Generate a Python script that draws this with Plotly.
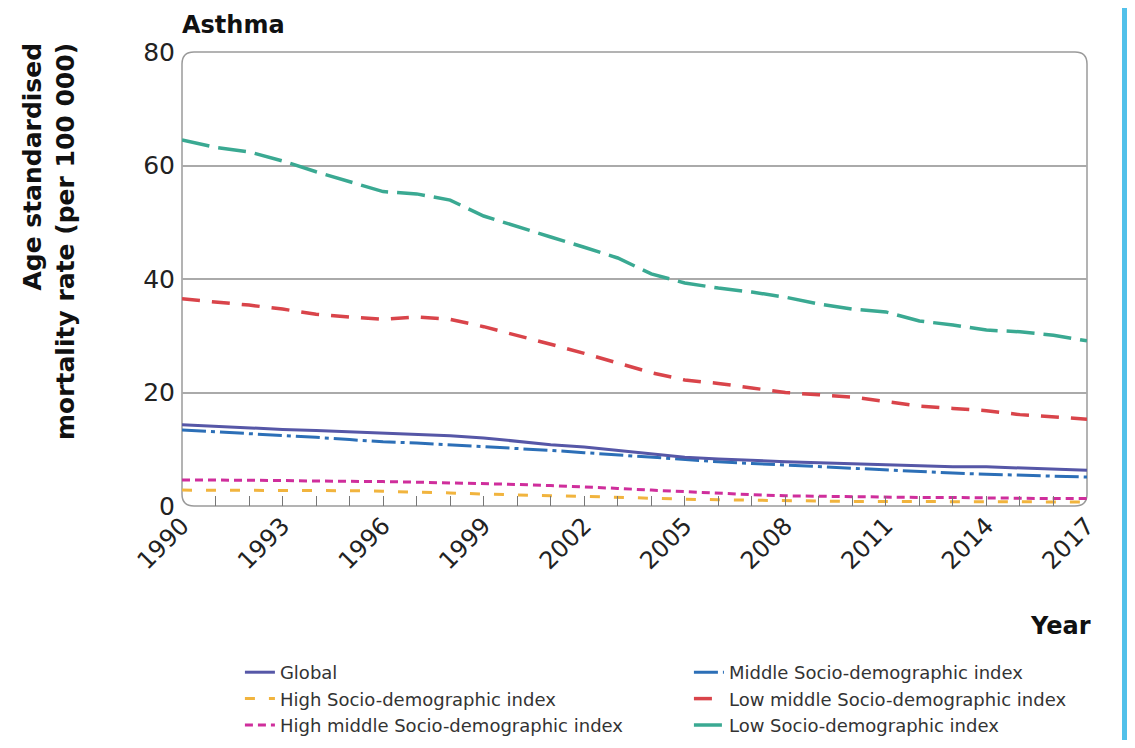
import plotly.graph_objects as go

years = list(range(1990, 2018))

global_rate = [14.3, 14.0, 13.8, 13.5, 13.3, 13.1, 12.9, 12.7, 12.4, 12.0, 11.4, 10.8, 10.4, 9.8,
               9.1, 8.6, 8.3, 8.0, 7.8, 7.6, 7.4, 7.2, 7.0, 6.9, 6.9, 6.7, 6.5, 6.3]
middle_sdi = [13.4, 13.1, 12.8, 12.5, 12.1, 11.7, 11.3, 11.1, 10.8, 10.5, 10.1, 9.8, 9.4, 9.0,
              8.5, 8.1, 7.8, 7.5, 7.2, 6.9, 6.6, 6.3, 6.0, 5.8, 5.6, 5.4, 5.3, 5.1]
high_sdi = [2.8, 2.8, 2.8, 2.7, 2.7, 2.7, 2.6, 2.5, 2.3, 2.1, 1.9, 1.8, 1.7, 1.5,
            1.4, 1.2, 1.1, 1.0, 0.9, 0.9, 0.8, 0.8, 0.8, 0.7, 0.7, 0.7, 0.7, 0.7]
low_middle_sdi = [36.5, 36.0, 35.4, 34.7, 33.8, 33.3, 32.9, 33.3, 32.9, 31.6, 30.1, 28.5, 26.9, 25.2,
                  23.5, 22.2, 21.6, 20.8, 20.0, 19.6, 19.2, 18.4, 17.6, 17.2, 16.8, 16.1, 15.7, 15.3]
high_middle_sdi = [4.6, 4.6, 4.5, 4.5, 4.4, 4.4, 4.3, 4.2, 4.1, 4.0, 3.8, 3.6, 3.4, 3.1,
                   2.8, 2.5, 2.2, 2.0, 1.8, 1.7, 1.6, 1.6, 1.5, 1.5, 1.4, 1.4, 1.3, 1.3]
low_sdi = [64.5, 63.2, 62.4, 60.8, 58.9, 57.1, 55.4, 55.0, 53.9, 51.1, 49.2, 47.4, 45.6, 43.7,
           40.9, 39.3, 38.4, 37.7, 36.8, 35.6, 34.7, 34.2, 32.6, 31.9, 31.0, 30.7, 30.1, 29.1]

x_tick_vals = list(range(1990, 2018, 3))
y_tick_vals = [0, 20, 40, 60, 80]

FONT = "DejaVu Sans"

fig = go.Figure()

# (name, data, color, dash, width, legendrank)
series = [
    ("High Socio-demographic index", high_sdi, "#f1b43e", "10px,14px", 3, 3),
    ("High middle Socio-demographic index", high_middle_sdi, "#cf2e9c", "8px,5px", 3, 5),
    ("Low Socio-demographic index", low_sdi, "#3aa992", "28px,9px", 3.5, 6),
    ("Low middle Socio-demographic index", low_middle_sdi, "#d9444a", "18px,12px", 3.5, 4),
    ("Middle Socio-demographic index", middle_sdi, "#2c6fb7", "24px,5px,4px,5px", 3, 2),
    ("Global", global_rate, "#5657a7", "solid", 3, 1),
]
for name, vals, color, dash, w, rank in series:
    fig.add_trace(go.Scatter(
        x=years, y=vals, mode="lines", name=name, legendrank=rank,
        line=dict(color=color, dash=dash, width=w),
    ))

rx = 12 / 905
ry = 12 / 454
path = (f"M {rx},0 L {1-rx},0 Q 1,0 1,{ry} L 1,{1-ry} Q 1,1 {1-rx},1 "
        f"L {rx},1 Q 0,1 0,{1-ry} L 0,{ry} Q 0,0 {rx},0 Z")

# page has an 8px body margin; figure sized to fit the window
fig.update_layout(
    width=1127, height=732,
    margin=dict(l=174, r=48, t=44, b=234, autoexpand=False),
    paper_bgcolor="white", plot_bgcolor="white",
    font=dict(family=FONT, color="#222222"),
    title=dict(text="<b>Asthma</b>", x=0, xref="paper", xanchor="left",
               y=1 - 17 / 732, yref="container", yanchor="middle",
               font=dict(size=24, family=FONT, color="#111111")),
    xaxis=dict(range=[1990, 2017], tickvals=x_tick_vals, tickangle=-45,
               tickfont=dict(size=24, family=FONT, color="#222222"),
               ticks="inside", ticklen=10, tickcolor="#777777", tickwidth=1,
               minor=dict(dtick=1, tick0=1990, ticks="inside", ticklen=10,
                          tickcolor="#777777", tickwidth=1, showgrid=False),
               showgrid=False, zeroline=False, showline=False, fixedrange=True,
               automargin=False),
    yaxis=dict(range=[0, 80], tickvals=y_tick_vals,
               tickfont=dict(size=25, family=FONT, color="#222222"),
               ticks="", ticklabelstandoff=6,
               showgrid=False, zeroline=False, showline=False,
               minor=dict(tickmode="array", tickvals=[20, 40, 60], showgrid=True,
                          gridcolor="#aaaaaa", gridwidth=1.5, ticks=""),
               fixedrange=True, automargin=False),
    legend=dict(orientation="h", x=0.064, xanchor="left", y=-0.326, yanchor="top",
                entrywidth=404, entrywidthmode="pixels",
                font=dict(size=18, family=FONT, color="#333333"),
                traceorder="normal", bgcolor="rgba(0,0,0,0)", tracegroupgap=0),
    showlegend=True,
    shapes=[
        dict(type="path", path=path, xref="paper", yref="paper",
             line=dict(color="#9a9a9a", width=1.5), layer="below"),
        dict(type="rect", xref="paper", yref="paper",
             x0=(1122 - 182) / 905, x1=(1128 - 182) / 905,
             y0=(506 - 740) / 454, y1=(506 + 2) / 454,
             fillcolor="#52c1ea", line=dict(width=0), layer="above"),
    ],
    annotations=[
        dict(text="<b>Age standardised<br>mortality rate (per 100 000)</b>",
             xref="paper", yref="paper", x=(49 - 182) / 905, y=(506 - 242) / 454,
             xanchor="center", yanchor="middle", textangle=-90, align="right",
             showarrow=False, font=dict(size=25, family=FONT, color="#111111")),
        dict(text="<b>Year</b>", xref="paper", yref="paper",
             x=(1060 - 182) / 905, y=(506 - 626) / 454, xanchor="center", yanchor="middle",
             showarrow=False, font=dict(size=24, family=FONT, color="#111111")),
    ],
)

fig.write_html("out.html")
